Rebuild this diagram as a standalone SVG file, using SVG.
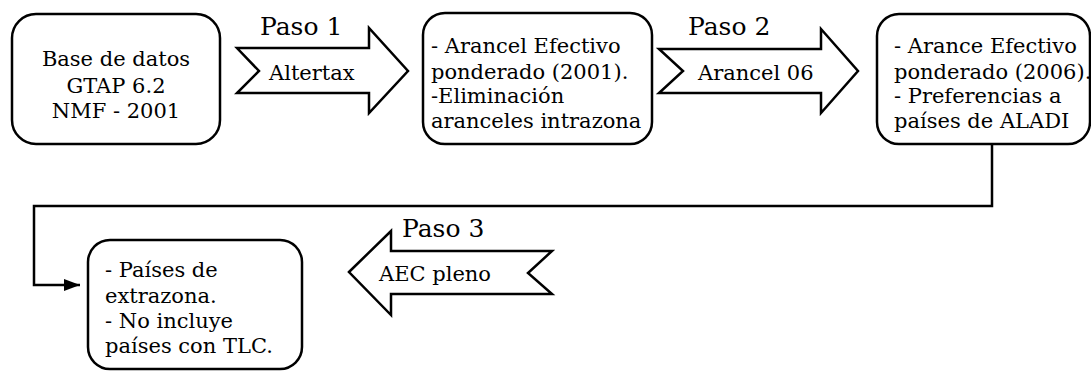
<svg xmlns="http://www.w3.org/2000/svg" width="1091" height="372" viewBox="0 0 1091 372">
<style>
.box{fill:#fff;stroke:#000;stroke-width:2.5}
.arw{fill:#fff;stroke:#000;stroke-width:2.5;stroke-linejoin:miter}
.t{font-family:"DejaVu Serif","Liberation Serif",serif;font-size:21px;fill:#000}
.c{text-anchor:middle}
.p{font-family:"DejaVu Serif","Liberation Serif",serif;font-size:25px;fill:#000}
.conn{fill:none;stroke:#000;stroke-width:2.5}
</style>
<defs>
<marker id="ah" markerUnits="userSpaceOnUse" markerWidth="18" markerHeight="14" refX="16" refY="6" orient="auto">
<path d="M0,0 L16,6 L0,12 Z" fill="#000"/>
</marker>
</defs>
<rect width="1091" height="372" fill="#fff"/>
<g id="connectors">
<path class="conn" d="M992,144 V206 H34 V285 H80" marker-end="url(#ah)"/>
</g>
<g id="node-base">
<rect class="box" x="12" y="14" width="208" height="130" rx="24"/>
<text class="t c" x="116" y="66">Base de datos</text>
<text class="t c" x="116" y="93">GTAP 6.2</text>
<text class="t c" x="116" y="118">NMF - 2001</text>
</g>
<g id="arrow-paso1">
<polygon class="arw" points="237,48 369,48 369,28 408,71 369,113 369,93 237,93 259,71"/>
<text class="p" x="260" y="35">Paso 1</text>
<text class="t" x="269" y="80">Altertax</text>
</g>
<g id="node-2001">
<rect class="box" x="423" y="13" width="229" height="131" rx="22"/>
<text class="t" x="431" y="53">- Arancel Efectivo</text>
<text class="t" x="431" y="79">ponderado (2001).</text>
<text class="t" x="431" y="103">-Eliminación</text>
<text class="t" x="431" y="128">aranceles intrazona</text>
</g>
<g id="arrow-paso2">
<polygon class="arw" points="659,49 821,49 821,29 858,71 821,113 821,93 659,93 683,71"/>
<text class="p" x="688" y="35">Paso 2</text>
<text class="t" x="698" y="80">Arancel 06</text>
</g>
<g id="node-2006">
<rect class="box" x="877" y="14" width="213" height="130" rx="22"/>
<text class="t" x="894" y="53">- Arance Efectivo</text>
<text class="t" x="894" y="79">ponderado (2006).</text>
<text class="t" x="894" y="103">- Preferencias a</text>
<text class="t" x="894" y="128">países de ALADI</text>
</g>
<g id="arrow-paso3">
<polygon class="arw" points="349,272 391,231 391,251 552,251 528,273 552,294 391,294 391,315"/>
<text class="p" x="402" y="237">Paso 3</text>
<text class="t" x="379" y="281">AEC pleno</text>
</g>
<g id="node-extrazona">
<rect class="box" x="88" y="240" width="214" height="129" rx="22"/>
<text class="t" x="105" y="277">- Países de</text>
<text class="t" x="105" y="303">extrazona.</text>
<text class="t" x="105" y="328">- No incluye</text>
<text class="t" x="105" y="353">países con TLC.</text>
</g>
</svg>
